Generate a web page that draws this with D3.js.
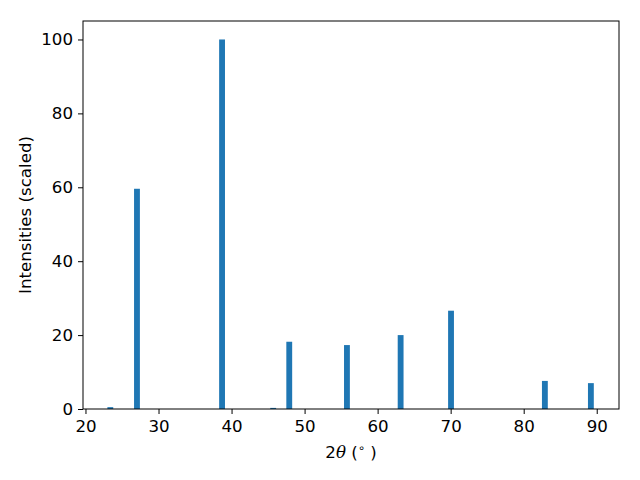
<!DOCTYPE html>
<html>
<head>
<meta charset="utf-8">
<script src="https://cdn.jsdelivr.net/npm/d3@7"></script>
<style>
  body { margin: 0; background: #fff; }
  svg { display: block; }
  text { font-family: "DejaVu Sans", sans-serif; }
</style>
</head>
<body>
<svg id="chart" width="640" height="480"></svg>
<script>
const twoTheta = [23.4, 27.05, 38.7, 45.7, 47.9, 55.8, 63.15, 70.05, 82.9, 89.2];
const intensity = [0.5, 59.6, 100, 0.3, 18.2, 17.3, 20.0, 26.6, 7.6, 7.0];
const xTicks = [20, 30, 40, 50, 60, 70, 80, 90];
const yTicks = [0, 20, 40, 60, 80, 100];
const barWidth = 0.8;

const svg = d3.select("#chart");
const m = {left: 83, top: 21, right: 619, bottom: 409};
const fs = 16.67;

const x = d3.scaleLinear().domain([19.66, 93.05]).range([m.left, m.right]);
const y = d3.scaleLinear().domain([0, 105]).range([m.bottom, m.top]);

svg.append("rect").attr("x", 0).attr("y", 0).attr("width", 640).attr("height", 480).attr("fill", "#fff");

svg.append("g").selectAll("rect")
  .data(twoTheta.map((t, i) => ({t, v: intensity[i]})))
  .join("rect")
  .attr("x", d => x(d.t - barWidth / 2))
  .attr("width", d => x(d.t + barWidth / 2) - x(d.t - barWidth / 2))
  .attr("y", d => y(d.v))
  .attr("height", d => y(0) - y(d.v))
  .attr("fill", "#1f77b4");

const xAxis = svg.append("g")
  .attr("transform", `translate(0,${m.bottom})`)
  .call(d3.axisBottom(x).tickValues(xTicks).tickSize(5).tickPadding(6).tickFormat(d3.format("d")));
const yAxis = svg.append("g")
  .attr("transform", `translate(${m.left},0)`)
  .call(d3.axisLeft(y).tickValues(yTicks).tickSize(5).tickPadding(5).tickFormat(d3.format("d")));

[xAxis, yAxis].forEach(g => {
  g.select(".domain").remove();
  g.selectAll("line").attr("stroke", "#000").attr("stroke-width", 1);
  g.selectAll("text").attr("font-size", fs).attr("fill", "#000").attr("font-family", "DejaVu Sans, sans-serif");
});

svg.append("rect")
  .attr("x", m.left).attr("y", m.top)
  .attr("width", m.right - m.left).attr("height", m.bottom - m.top)
  .attr("fill", "none").attr("stroke", "#000").attr("stroke-width", 1);

const xl = svg.append("text")
  .attr("x", (m.left + m.right) / 2).attr("y", 458)
  .attr("text-anchor", "middle").attr("font-size", fs).attr("fill", "#000");
xl.append("tspan").text("2");
xl.append("tspan").attr("font-style", "italic").attr("font-family", "DejaVu Serif, serif").text("θ");
xl.append("tspan").text(" (");
xl.append("tspan").attr("font-size", 11.5).attr("dy", -6).text("∘");
xl.append("tspan").attr("dy", 6).text(" )");

svg.append("text")
  .attr("transform", `translate(31,${(m.top + m.bottom) / 2}) rotate(-90)`)
  .attr("text-anchor", "middle").attr("font-size", fs).attr("fill", "#000")
  .text("Intensities (scaled)");
</script>
</body>
</html>
